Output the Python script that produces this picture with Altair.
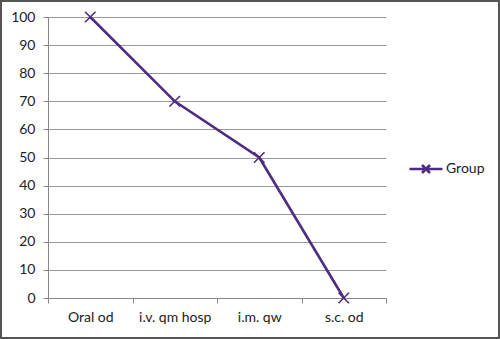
import altair as alt
import pandas as pd

categories = ["Oral od", "i.v. qm hosp", "i.m. qw", "s.c. od"]
values = [100, 70, 50, 0]
series = ["Group"] * 4

df = pd.DataFrame({"cat": categories, "val": values, "series": series})

W, H = 338, 281
PURPLE = "#4E2C81"
FONT = "Lato"
FS = 14

x_enc = alt.X(
    "cat:N",
    sort=categories,
    bandPosition=0.5,
    scale=alt.Scale(type="band", paddingInner=0, paddingOuter=0),
    axis=alt.Axis(
        title=None, tickBand="extent", grid=False, labelAngle=0,
        domainColor="#888888", tickColor="#888888", tickSize=5,
        labelPadding=7, labelFontSize=FS, labelColor="#222222", labelFont=FONT,
    ),
)
y_enc = alt.Y(
    "val:Q",
    scale=alt.Scale(domain=[0, 100], nice=False),
    axis=alt.Axis(
        title=None, values=list(range(0, 101, 10)), grid=True, gridColor="#999999",
        domainColor="#888888", tickColor="#888888", tickSize=5, labelPadding=8,
        labelFontSize=FS, labelColor="#222222", labelFont=FONT,
    ),
)

color_enc = alt.Color(
    "series:N",
    scale=alt.Scale(range=[PURPLE]),
    legend=alt.Legend(
        title=None, orient="none", legendX=360, legendY=134, padding=0,
        symbolType="M-1,0H1M-0.24,-0.24L0.24,0.24M-0.24,0.24L0.24,-0.24",
        symbolSize=1089, symbolStrokeWidth=2.6, symbolStrokeColor=PURPLE,
        labelFontSize=FS, labelFont=FONT, labelColor="#222222", labelOffset=2,
    ),
)

line = alt.Chart(df).mark_line(strokeWidth=2.6).encode(x=x_enc, y=y_enc, color=color_enc)
pts = alt.Chart(df).mark_point(
    shape="M-1,-1L1,1M-1,1L1,-1", size=110, strokeWidth=1.6, filled=False, opacity=1
).encode(x=x_enc, y=y_enc, color=alt.Color("series:N", scale=alt.Scale(range=[PURPLE]), legend=None))

border = alt.Chart(df).mark_rect(fill=None, stroke="#555555", strokeWidth=2).encode(
    x=alt.value(-47), x2=alt.value(451), y=alt.value(-16), y2=alt.value(321)
)

chart = alt.layer(line, pts, border).properties(
    width=W, height=H,
    autosize=alt.AutoSizeParams(type="none"),
    padding={"left": 48, "top": 17, "right": 114, "bottom": 41},
    background="white",
).configure_view(stroke=None)

chart.save("out.html", embed_options={"renderer": "svg", "actions": False})
